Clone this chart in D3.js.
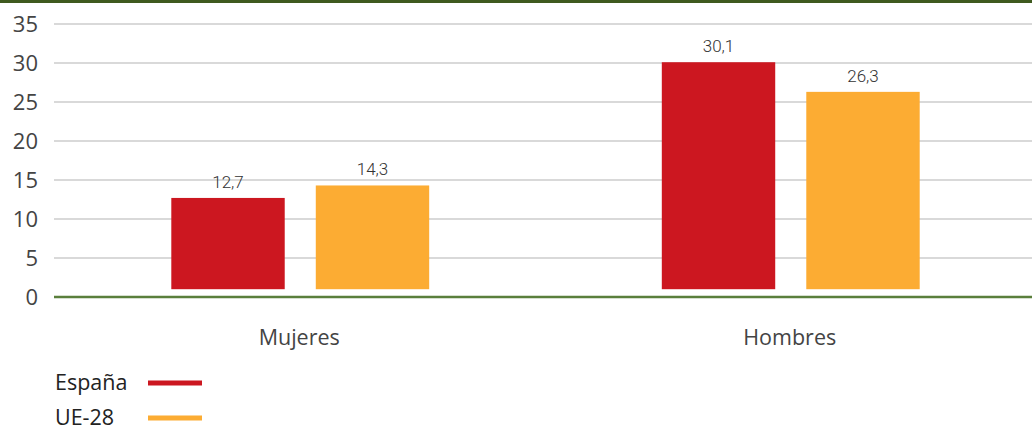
<!DOCTYPE html>
<html><head><meta charset="utf-8">
<script src="https://cdn.jsdelivr.net/npm/d3@7"></script>
<style>body{margin:0;background:#fff;}svg{display:block;font-family:"Open Sans",Lato,sans-serif;}</style>
</head><body><svg id="c" width="1032" height="430"></svg>
<script>
const categories = ["Mujeres", "Hombres"];
const seriesNames = ["España", "UE-28"];
const espana = [12.7, 30.1];
const ue28 = [14.3, 26.3];
const yTicks = [0, 5, 10, 15, 20, 25, 30, 35];
const colors = ["#cc1720", "#fcac33"];

(function(){
const svg = d3.select("#c");
const mLeft = 54, mRight = 1032, mTop = 24, mBottom = 297;
const y = d3.scaleLinear().domain([0, 35]).range([mBottom, mTop]);
const x = d3.scaleBand().domain(categories).range([mLeft + 1, mRight + 4]);
const xs = d3.scaleBand().domain(seriesNames).range([0, x.bandwidth()]).paddingInner(0.215).paddingOuter(0.805);

svg.append("rect").attr("x",0).attr("y",0).attr("width",1032).attr("height",3).attr("fill","#3f5a1f");

svg.append("g").selectAll("line").data(yTicks.filter(d=>d>0)).join("line")
  .attr("x1",mLeft).attr("x2",mRight).attr("y1",d=>y(d)).attr("y2",d=>y(d))
  .attr("stroke","#cccccc").attr("stroke-width",1.5);

svg.append("g").selectAll("text").data(yTicks).join("text")
  .attr("x",38).attr("y",d=>y(d)).attr("dy","0.36em").attr("text-anchor","end")
  .attr("font-size",22).attr("fill","#444").text(d=>d);

const data = [espana, ue28];
const g = svg.append("g");
seriesNames.forEach((s,si)=>{
  categories.forEach((c,ci)=>{
    const v = data[si][ci];
    const bx = x(c) + xs(s);
    g.append("rect").attr("x",bx).attr("width",xs.bandwidth())
      .attr("y",y(v)).attr("height",y(1)-y(v)).attr("fill",colors[si]);
    g.append("text").attr("x",bx+xs.bandwidth()/2).attr("y",y(v)-10)
      .attr("text-anchor","middle").attr("font-size",17).attr("fill","#333")
      .attr("font-family","Roboto, sans-serif").attr("font-weight",300)
      .text(String(v).replace(".",","));
  });
});

svg.append("line").attr("x1",mLeft).attr("x2",mRight).attr("y1",y(0)).attr("y2",y(0))
  .attr("stroke","#5a7f3c").attr("stroke-width",2.5);

svg.append("g").selectAll("text").data(categories).join("text")
  .attr("x",d=>x(d)+x.bandwidth()/2 - 1).attr("y",337).attr("dy","0.36em")
  .attr("text-anchor","middle").attr("font-size",21.5).attr("fill","#444").text(d=>d);

seriesNames.forEach((s,i)=>{
  const ly = 382 + i*35;
  svg.append("text").attr("x",55).attr("y",ly).attr("dy","0.36em").attr("font-size",21.5).attr("fill","#222").text(s);
  svg.append("line").attr("x1",148).attr("x2",202).attr("y1",ly+1).attr("y2",ly+1).attr("stroke",colors[i]).attr("stroke-width",5);
});
})();
</script></body></html>
